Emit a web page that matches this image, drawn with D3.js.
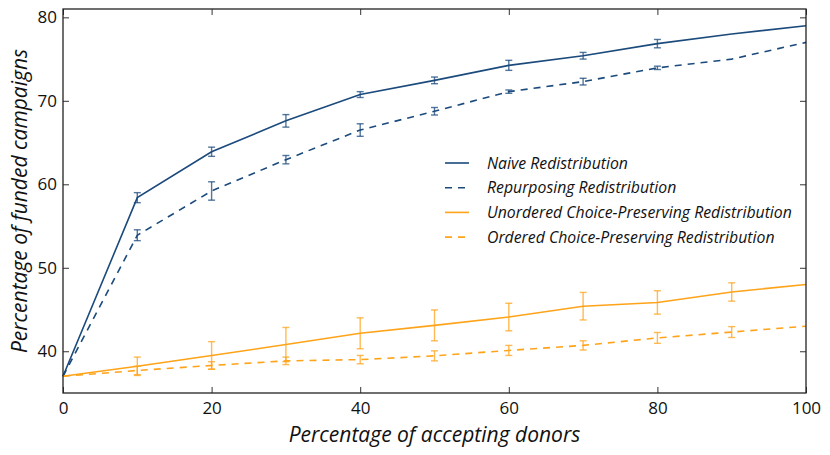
<!DOCTYPE html>
<html>
<head>
<meta charset="utf-8">
<script src="https://cdn.jsdelivr.net/npm/d3@7"></script>
<style>
  body { margin: 0; background: #fff; }
  text { font-family: "Open Sans", sans-serif; }
</style>
</head>
<body>
<div id="chart"></div>
<script>
var svgWidth = 830;
var svgHeight = 455;

var margin = { top: 9, right: 24, bottom: 62, left: 63 };
var width = svgWidth - margin.left - margin.right;
var height = svgHeight - margin.top - margin.bottom;

// data
var xValues = [0, 10, 20, 30, 40, 50, 60, 70, 80, 90, 100];
var naive = [37, 58.4, 63.9, 67.6, 70.75, 72.45, 74.25, 75.4, 76.85, 78.0, 79.0];
var naiveErr = [0, 0.6, 0.55, 0.75, 0.35, 0.4, 0.6, 0.4, 0.5, 0, 0];
var repurposing = [37, 53.9, 59.2, 62.95, 66.5, 68.75, 71.1, 72.3, 73.95, 75.0, 77.0];
var repurposingErr = [0, 0.65, 1.1, 0.5, 0.75, 0.45, 0.2, 0.4, 0.2, 0, 0];
var unordered = [37, 38.2, 39.5, 40.8, 42.15, 43.1, 44.1, 45.4, 45.85, 47.1, 48.0];
var unorderedErr = [0, 1.1, 1.65, 2.05, 1.85, 1.85, 1.65, 1.65, 1.4, 1.1, 0];
var ordered = [37, 37.7, 38.3, 38.85, 39.0, 39.45, 40.1, 40.7, 41.6, 42.3, 43.0];
var orderedErr = [0, 0.5, 0.45, 0.45, 0.5, 0.6, 0.6, 0.55, 0.65, 0.65, 0];

var xTicks = [0, 20, 40, 60, 80, 100];
var yTicks = [40, 50, 60, 70, 80];

var navy = "#1b4a7c";
var orange = "#ffa319";

var series = [
  { name: "Naive Redistribution", values: naive, err: naiveErr, color: navy, dash: null },
  { name: "Repurposing Redistribution", values: repurposing, err: repurposingErr, color: navy, dash: "7,6" },
  { name: "Unordered Choice-Preserving Redistribution", values: unordered, err: unorderedErr, color: orange, dash: null },
  { name: "Ordered Choice-Preserving Redistribution", values: ordered, err: orderedErr, color: orange, dash: "7,6" }
];

var svg = d3.select("#chart")
  .append("svg")
  .attr("width", svgWidth)
  .attr("height", svgHeight);

var chartGroup = svg.append("g")
  .attr("transform", `translate(${margin.left}, ${margin.top})`);

var xScale = d3.scaleLinear().domain([0, 100]).range([0, width]);
var yScale = d3.scaleLinear().domain([35, 81]).range([height, 0]);

// ticks inside, on all four sides (matplotlib classic look)
function styleAxis(g) {
  g.select(".domain").remove();
  g.selectAll(".tick line").attr("stroke", "#333").attr("stroke-width", 1);
  g.selectAll(".tick text").attr("font-size", "17px").attr("fill", "#111")
    .attr("font-family", "'Open Sans', sans-serif");
}

chartGroup.append("g")
  .attr("transform", `translate(0, ${height})`)
  .call(d3.axisBottom(xScale).tickValues(xTicks).tickSize(-6).tickPadding(9))
  .call(styleAxis);

chartGroup.append("g")
  .call(d3.axisTop(xScale).tickValues(xTicks).tickSize(-6).tickFormat(""))
  .call(styleAxis);

chartGroup.append("g")
  .call(d3.axisLeft(yScale).tickValues(yTicks).tickSize(-6).tickPadding(6))
  .call(styleAxis);

chartGroup.append("g")
  .attr("transform", `translate(${width}, 0)`)
  .call(d3.axisRight(yScale).tickValues(yTicks).tickSize(-6).tickFormat(""))
  .call(styleAxis);

var line = d3.line()
  .x((d, i) => xScale(xValues[i]))
  .y(d => yScale(d));

series.forEach(function(s) {
  chartGroup.append("path")
    .datum(s.values)
    .attr("fill", "none")
    .attr("stroke", s.color)
    .attr("stroke-width", 1.6)
    .attr("stroke-dasharray", s.dash)
    .attr("d", line);

  var bars = chartGroup.append("g")
    .attr("stroke", s.color)
    .attr("stroke-opacity", 0.75)
    .attr("stroke-width", 1.4);

  xValues.forEach(function(x, i) {
    var e = s.err[i];
    if (!e) return;
    var cx = xScale(x);
    var y1 = yScale(s.values[i] - e);
    var y2 = yScale(s.values[i] + e);
    bars.append("line").attr("x1", cx).attr("x2", cx).attr("y1", y1).attr("y2", y2);
    bars.append("line").attr("x1", cx - 3.5).attr("x2", cx + 3.5).attr("y1", y1).attr("y2", y1);
    bars.append("line").attr("x1", cx - 3.5).attr("x2", cx + 3.5).attr("y1", y2).attr("y2", y2);
  });
});

// frame
chartGroup.append("rect")
  .attr("width", width)
  .attr("height", height)
  .attr("fill", "none")
  .attr("stroke", "#222")
  .attr("stroke-width", 1.3);

// legend
var legend = chartGroup.append("g")
  .attr("transform", `translate(${445 - margin.left}, ${163 - margin.top})`);

series.forEach(function(s, i) {
  var row = legend.append("g").attr("transform", `translate(0, ${i * 24.7})`);
  row.append("line")
    .attr("x1", 0).attr("x2", 24)
    .attr("stroke", s.color)
    .attr("stroke-width", 1.6)
    .attr("stroke-dasharray", s.dash);
  row.append("text")
    .attr("x", 42)
    .attr("dy", "0.35em")
    .attr("font-size", "15.8px")
    .attr("font-style", "italic")
    .attr("fill", "#111")
    .text(s.name);
});

// axis titles
svg.append("text")
  .attr("x", margin.left + width / 2)
  .attr("y", 442)
  .attr("text-anchor", "middle")
  .attr("font-size", "21px")
  .attr("font-style", "italic")
  .attr("fill", "#111")
  .text("Percentage of accepting donors");

svg.append("text")
  .attr("transform", `translate(27, ${margin.top + height / 2}) rotate(-90)`)
  .attr("text-anchor", "middle")
  .attr("font-size", "21px")
  .attr("font-style", "italic")
  .attr("fill", "#111")
  .text("Percentage of funded campaigns");
</script>
</body>
</html>
